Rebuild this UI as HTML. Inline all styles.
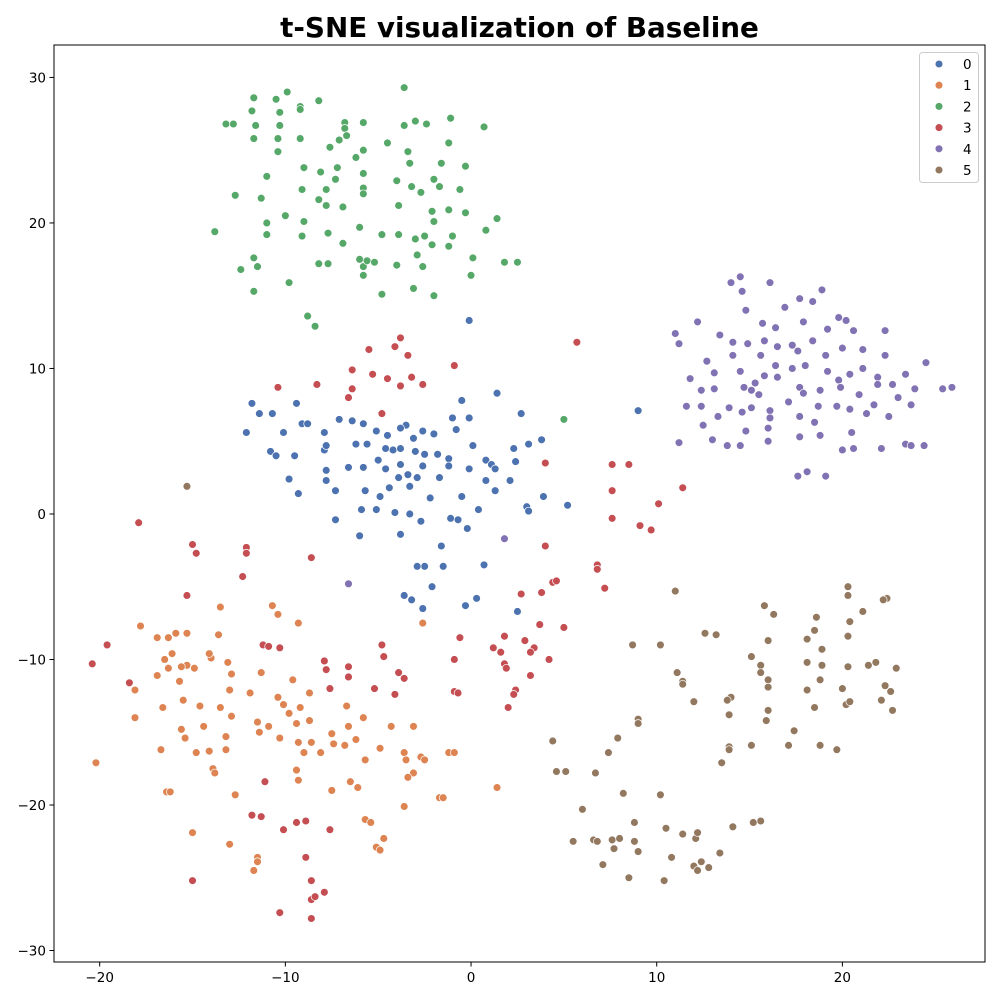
<!DOCTYPE html>
<html><head><meta charset="utf-8"><style>
html,body{margin:0;padding:0;background:#fff;}
svg text{font-family:"DejaVu Sans","Liberation Sans",sans-serif;}
</style></head><body>
<svg id="chart" width="1000" height="1000" viewBox="0 0 1000 1000" xmlns="http://www.w3.org/2000/svg">
<rect x="0" y="0" width="1000" height="1000" fill="#fff"/>
<text x="519.5" y="37" text-anchor="middle" font-size="27.8" font-weight="bold" fill="#000">t-SNE visualization of Baseline</text>
<g id="points"></g>
<g id="axes"></g>
<g id="legend"></g>
</svg>
<script>
const classLabels = ["0","1","2","3","4","5"];
const classColors = ["#4c72b0","#dd8452","#55a868","#c44e52","#8172b3","#937860"];
const xTicks = [-20,-10,0,10,20];
const yTicks = [-30,-20,-10,0,10,20,30];

const x0 = [-0.1,1.4,2.7,9.0,-11.8,-9.4,-9.1,-8.8,-11.4,-10.7,-12.1,-10.1,-9.5,-10.8,-10.5,-9.8,-9.3,-7.9,-7.1,-6.4,-5.8,-5.1,-3.5,-4.5,-3.8,-3.1,-2.6,-2.0,-1.0,-0.1,-0.5,-0.8,-7.9,-7.8,-6.2,-5.6,-4.6,-4.2,-3.8,-3.0,-2.5,-1.8,-1.2,0.1,0.8,1.1,1.3,2.3,2.4,3.8,3.1,-7.8,-6.6,-5.8,-5.0,-4.6,-3.8,-3.4,-2.6,-1.2,-0.1,0.8,1.3,2.1,-7.8,-7.3,-5.7,-4.9,-4.4,-3.9,-2.9,-3.3,-1.7,-0.5,-2.2,3.0,3.1,3.9,5.2,-7.3,-6.0,-5.9,-5.1,-4.1,-3.3,-2.7,-1.1,-0.7,-0.2,0.4,-3.8,-1.6,-2.5,-1.5,-2.9,0.7,-2.1,-3.6,-3.2,-2.6,-0.3,0.3,2.5];
const y0 = [13.3,8.3,6.9,7.1,7.6,7.6,6.2,6.2,6.9,6.9,5.6,5.6,4.0,4.3,4.0,2.4,1.4,5.6,6.5,6.4,6.2,5.7,6.1,5.4,5.9,5.2,5.7,5.5,6.6,6.6,7.8,5.8,4.4,4.7,4.8,4.8,4.5,4.4,4.5,4.3,4.1,4.1,3.8,4.7,3.7,3.4,3.1,4.5,3.6,5.1,4.8,3.0,3.2,3.2,3.7,3.1,3.4,2.7,3.3,3.3,3.1,2.3,1.6,2.3,2.3,1.6,1.6,1.2,1.8,2.5,2.5,1.9,2.5,1.2,1.1,0.5,0.2,1.2,0.6,-0.4,-1.5,0.3,0.3,0.1,0.0,-0.5,-0.3,-0.4,-1.0,0.3,-1.4,-2.2,-3.6,-3.6,-3.6,-3.5,-5.0,-5.6,-5.9,-6.5,-6.3,-5.8,-6.7];

const x1 = [-20.2,-17.8,-16.9,-16.3,-15.9,-15.3,-16.1,-15.3,-15.6,-15.7,-16.5,-16.3,-14.9,-14.0,-13.6,-13.5,-13.1,-12.9,-13.0,-11.9,-11.3,-10.7,-10.4,-9.3,-9.6,-10.4,-10.1,-9.2,-8.7,-8.7,-9.4,-9.3,-9.0,-9.4,-9.3,-8.1,-7.5,-7.4,-6.7,-6.6,-6.2,-5.8,-4.9,-4.3,-3.6,-3.1,-3.1,-2.7,-2.5,-2.6,-1.2,-0.9,-1.7,-1.5,-18.1,-18.1,-16.9,-14.6,-14.4,-15.6,-15.4,-14.8,-14.1,-13.9,-13.8,-13.2,-13.2,-12.9,-13.5,-12.7,-13.0,-11.5,-11.4,-10.3,-9.8,-8.6,-11.5,-11.5,-11.7,-16.4,-16.2,-16.7,-15.0,-7.5,-6.5,-6.1,-5.7,-5.4,-5.1,-4.9,-4.7,-3.6,-3.4,-3.5,1.4,-15.5,-16.6,-14.1,-10.9,-6.8,-5.7];
const y1 = [-17.1,-7.7,-8.5,-8.5,-8.2,-8.2,-9.6,-10.4,-10.5,-11.5,-10.0,-10.6,-10.6,-9.9,-8.3,-6.4,-10.2,-11.0,-12.1,-12.3,-10.9,-6.3,-6.9,-7.5,-11.4,-12.6,-13.1,-13.3,-12.3,-14.2,-14.4,-15.7,-16.4,-17.6,-18.3,-16.4,-15.1,-15.8,-13.2,-14.6,-15.5,-14.0,-16.1,-14.6,-16.4,-14.6,-17.8,-16.7,-16.9,-7.5,-16.4,-16.4,-19.5,-19.5,-12.1,-14.0,-11.1,-13.2,-14.6,-14.8,-15.4,-16.4,-16.3,-17.5,-17.8,-15.3,-16.2,-13.9,-13.3,-19.3,-22.7,-14.3,-15.0,-15.4,-13.7,-15.7,-23.6,-23.9,-24.5,-19.1,-19.1,-16.2,-21.9,-19.0,-18.4,-18.8,-21.0,-21.2,-22.9,-23.1,-22.3,-20.1,-18.1,-16.9,-18.8,-12.8,-13.3,-9.6,-14.6,-15.9,-16.9];

const x2 = [-3.6,-9.9,-10.5,-11.7,-8.2,-9.2,-9.2,-11.8,-12.8,-13.2,-10.3,-11.6,-10.3,-10.4,-9.2,-11.7,-6.8,-6.8,-6.7,-7.1,-7.6,-6.2,-5.8,-4.5,-3.6,-3.0,-2.4,-1.1,0.7,-3.4,-1.2,-11.0,-9.0,-10.4,-8.1,-5.8,-7.2,-5.8,-7.3,-7.8,-9.1,-8.2,-6.9,-5.8,-5.8,-4.0,-3.2,-2.7,-1.7,-2.0,-0.3,-0.6,-1.6,-3.3,-12.7,-11.3,-10.0,-9.0,-11.0,-11.0,-9.1,-7.7,-6.0,-6.9,-4.8,-3.9,-3.0,-2.1,-2.0,-1.2,-0.3,1.4,-1.0,-2.1,0.8,-2.5,-13.8,-7.8,-3.9,-11.7,-12.4,-11.5,-8.2,-7.7,-6.0,-5.8,-5.6,-5.2,-4.0,-2.9,-2.6,-1.2,0.0,1.8,2.5,-4.8,-3.1,-2.0,-11.7,-9.8,-8.8,-8.4,-5.8,0.1,5.0];
const y2 = [29.3,29.0,28.5,28.6,28.4,28.0,27.8,27.7,26.8,26.8,27.6,26.7,26.7,25.8,25.8,25.8,26.9,26.5,26.0,25.7,25.2,24.5,26.9,25.5,26.7,27.0,26.8,27.2,26.6,24.9,25.5,23.2,23.8,24.9,23.5,25.0,23.8,23.4,23.0,22.3,22.3,21.6,21.1,22.4,22.0,22.9,22.5,22.1,22.5,23.0,23.9,22.3,24.1,24.1,21.9,21.7,20.5,20.1,20.0,19.2,19.1,19.3,19.7,18.6,19.2,19.2,18.9,20.8,20.1,20.9,20.7,20.3,19.1,18.5,19.5,19.1,19.4,21.2,21.2,17.6,16.8,17.0,17.2,17.2,17.5,17.0,17.4,17.3,17.1,17.8,17.0,18.4,16.4,17.3,17.3,15.1,15.5,15.0,15.3,15.9,13.6,12.9,16.4,17.6,6.5];

const x3 = [-3.8,-4.1,-3.4,-5.5,-6.4,-5.3,-4.5,-3.8,-3.2,-2.6,-0.9,-6.4,-6.6,-4.8,-10.4,-8.3,5.7,4.0,7.6,8.5,7.6,7.6,9.1,9.7,10.1,11.4,4.0,6.8,6.8,7.2,4.4,4.6,3.8,2.7,3.7,5.0,4.2,2.9,3.4,3.2,1.8,1.2,1.6,1.8,1.9,2.4,2.3,2.0,3.2,-0.6,-0.9,-0.9,-17.9,-15.0,-14.8,-12.1,-12.1,-12.3,-15.3,-8.6,-19.6,-20.4,-18.4,-11.2,-10.9,-10.3,-7.9,-7.8,-7.6,-6.6,-6.6,-5.2,-4.8,-4.7,-3.9,-3.6,-4.1,-0.7,-11.1,-11.8,-11.3,-9.4,-8.9,-10.1,-7.6,-15.0,-8.9,-8.6,-8.6,-8.4,-7.9,-10.3,-8.6];
const y3 = [12.1,11.5,10.9,11.3,9.9,9.6,9.3,8.8,9.4,8.9,10.2,8.6,8.0,6.9,8.7,8.9,11.8,3.5,3.4,3.4,1.6,-0.3,-0.8,-1.1,0.7,1.8,-2.2,-3.5,-3.8,-5.1,-4.7,-4.6,-5.4,-5.5,-7.6,-7.8,-10.0,-8.7,-9.2,-9.5,-8.4,-9.2,-9.5,-10.3,-10.6,-12.1,-12.4,-13.3,-11.1,-8.5,-10.0,-12.2,-0.6,-2.1,-2.7,-2.3,-2.7,-4.3,-5.6,-3.0,-9.0,-10.3,-11.6,-9.0,-9.1,-9.2,-10.1,-10.7,-12.0,-10.5,-11.2,-12.0,-9.0,-9.8,-10.9,-11.3,-12.4,-12.3,-18.4,-20.7,-20.8,-21.2,-21.1,-21.7,-21.7,-25.2,-23.6,-25.2,-26.5,-26.3,-26.0,-27.4,-27.8];

const x4 = [14.5,16.1,14.0,14.6,17.7,18.9,18.4,14.8,16.9,16.4,15.7,17.9,19.8,19.2,20.2,20.6,22.3,11.0,11.2,12.2,13.4,12.7,14.1,14.9,15.8,16.5,17.3,17.6,18.4,20.0,21.1,19.1,18.0,20.4,22.3,24.5,25.9,25.4,23.4,11.8,13.1,14.1,14.5,15.6,16.4,16.5,15.8,15.3,17.3,17.7,17.9,18.8,19.8,21.1,19.2,21.9,21.9,20.9,22.7,23.0,23.7,23.9,19.9,13.1,14.7,12.4,15.1,11.6,12.4,13.3,14.6,15.1,13.9,15.5,16.1,16.1,17.1,17.7,18.7,19.7,20.4,21.3,22.5,21.7,11.2,12.5,13.0,13.8,14.8,16.0,16.0,17.7,18.5,18.8,20.5,20.6,20.0,22.1,23.4,23.7,24.4,17.6,18.1,19.1,14.5,1.8,-6.6];
const y4 = [16.3,15.9,15.9,15.3,14.8,15.4,14.6,14.0,14.2,12.8,13.1,13.2,13.5,12.7,13.3,12.6,12.6,12.4,11.7,13.2,12.3,10.5,11.8,11.7,11.9,11.5,11.6,11.2,11.9,11.4,11.3,10.9,10.2,9.6,10.9,10.4,8.7,8.6,9.6,9.3,9.7,10.9,9.8,10.9,10.2,9.4,9.5,9.0,10.0,8.7,8.3,8.5,9.2,10.0,9.8,9.4,8.9,8.2,8.9,8.0,7.5,8.6,8.7,8.6,8.7,8.5,8.5,7.4,7.4,6.7,7.0,7.3,7.3,8.2,7.1,6.6,7.7,6.7,7.4,7.4,7.2,6.9,6.7,7.5,4.9,6.1,5.1,4.7,5.7,5.9,5.0,5.3,6.3,5.4,5.6,4.5,4.4,4.5,4.8,4.7,4.7,2.6,2.9,2.6,4.7,-1.7,-4.8];

const x5 = [-15.3,11.0,11.4,11.4,11.1,10.2,12.0,12.6,13.2,14.0,13.8,13.9,15.1,15.6,15.6,15.8,16.3,16.0,16.0,16.0,15.9,16.0,17.4,17.1,15.1,13.9,13.9,13.5,18.5,18.1,18.6,18.1,18.1,18.5,18.8,18.9,18.9,18.8,19.7,20.0,20.2,20.4,20.3,20.3,20.3,20.4,20.3,21.1,21.4,21.8,22.3,22.1,22.6,22.7,22.9,22.4,22.2,4.4,4.6,5.1,6.7,7.4,7.9,8.7,6.0,5.5,6.6,6.8,7.1,7.6,7.7,8.0,8.2,8.5,8.8,8.8,9.0,9.0,9.0,10.2,10.5,10.8,10.4,11.4,12.1,12.2,12.0,12.2,12.4,12.8,13.4,14.1,15.6,15.2];
const y5 = [1.9,-5.3,-11.5,-11.7,-10.9,-9.0,-12.9,-8.2,-8.3,-12.6,-12.8,-13.8,-9.8,-10.4,-10.9,-6.3,-6.9,-8.7,-11.4,-11.9,-14.2,-13.5,-14.9,-15.9,-15.9,-16.0,-16.2,-17.1,-8.0,-8.6,-7.1,-10.2,-12.1,-13.3,-11.4,-10.4,-9.3,-15.9,-16.2,-12.0,-13.1,-12.9,-10.5,-5.6,-5.0,-7.4,-8.4,-6.7,-10.4,-10.2,-11.8,-12.8,-12.2,-13.5,-10.6,-5.8,-5.9,-15.6,-17.7,-17.7,-17.8,-16.4,-15.4,-9.0,-20.3,-22.5,-22.4,-22.5,-24.1,-22.4,-23.0,-22.3,-19.2,-25.0,-22.5,-21.2,-23.2,-14.1,-14.4,-19.3,-21.6,-23.6,-25.2,-22.0,-22.3,-21.9,-24.2,-24.5,-23.9,-24.3,-23.3,-21.5,-21.1,-21.2];

const seriesX = [x0,x1,x2,x3,x4,x5];
const seriesY = [y0,y1,y2,y3,y4,y5];

const plotLeft = 54, plotRight = 985, plotTop = 45, plotBottom = 962;
const xDomain = [-22.46, 27.68];
const yDomain = [-30.79, 32.23];
function sx(v){ return plotLeft + (v - xDomain[0]) / (xDomain[1] - xDomain[0]) * (plotRight - plotLeft); }
function sy(v){ return plotBottom - (v - yDomain[0]) / (yDomain[1] - yDomain[0]) * (plotBottom - plotTop); }

const NS = "http://www.w3.org/2000/svg";
function mk(tag, attrs){ const e = document.createElementNS(NS, tag); for (const k in attrs) e.setAttribute(k, attrs[k]); return e; }

const pts = document.getElementById("points");
for (let s = 0; s < seriesX.length; s++) {
  const g = mk("g", {});
  
  
  for (let i = 0; i < seriesX[s].length; i++) {
    const c = mk("circle", {cx: sx(seriesX[s][i]), cy: sy(seriesY[s][i]), r: 3.9, fill: classColors[s], stroke: "#fff", "stroke-width": 0.7});
    
    
    g.appendChild(c);
  }
  pts.appendChild(g);
}

const axes = document.getElementById("axes");
const frame = mk("rect", {x: plotLeft, y: plotTop, width: plotRight - plotLeft, height: plotBottom - plotTop, fill: "none", stroke: "#000", "stroke-width": 1});


axes.appendChild(frame);
for (const t of xTicks) {
  const x = sx(t);
  const ln = mk("line", {x1: x, x2: x, y1: plotBottom, y2: plotBottom + 4.5, stroke: "#000", "stroke-width": 1});
  
  
  axes.appendChild(ln);
  const tx = mk("text", {x: x, y: plotBottom + 20, "text-anchor": "middle", "font-size": 13.5, fill: "#000"});
  
  
  tx.textContent = t < 0 ? "\u2212" + Math.abs(t) : String(t);
  axes.appendChild(tx);
}
for (const t of yTicks) {
  const y = sy(t);
  const ln = mk("line", {x1: plotLeft - 4.5, x2: plotLeft, y1: y, y2: y, stroke: "#000", "stroke-width": 1});
  
  
  axes.appendChild(ln);
  const tx = mk("text", {x: plotLeft - 8, y: y + 5, "text-anchor": "end", "font-size": 13.5, fill: "#000"});
  
  
  tx.textContent = t < 0 ? "\u2212" + Math.abs(t) : String(t);
  axes.appendChild(tx);
}

const leg = document.getElementById("legend");
const box = mk("rect", {x: 919.5, y: 52.5, width: 59, height: 130, rx: 3, fill: "#fff", "fill-opacity": 0.8, stroke: "#ccc", "stroke-width": 1});


leg.appendChild(box);
for (let s = 0; s < classLabels.length; s++) {
  const y = 64 + s * 21.2;
  const g = mk("g", {});
  
  
  const c = mk("circle", {cx: 939, cy: y, r: 3.9, fill: classColors[s], stroke: "#fff", "stroke-width": 0.7});
  
  
  g.appendChild(c);
  const tx = mk("text", {x: 963, y: y + 5, "font-size": 13.5, fill: "#000"});
  
  
  tx.textContent = classLabels[s];
  g.appendChild(tx);
  leg.appendChild(g);
}
</script>
</body></html>
